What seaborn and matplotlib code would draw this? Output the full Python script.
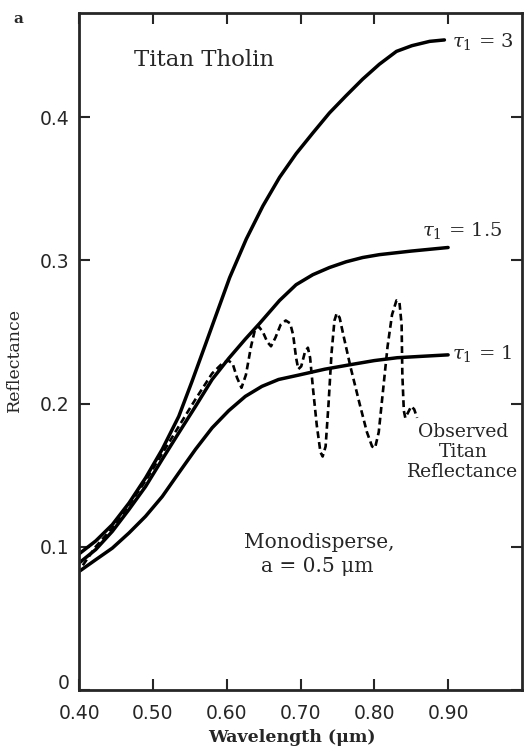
import numpy as np
import pandas as pd
import matplotlib
matplotlib.use("Agg")
import matplotlib.pyplot as plt
import matplotlib.transforms as mtransforms
import seaborn as sns

# model curves, tau1 = 3, 1.5, 1
wl_t3 = [0.40, 0.4225, 0.445, 0.4676, 0.49, 0.5126, 0.535, 0.553, 0.571, 0.5815,
         0.604, 0.6266, 0.649, 0.6716, 0.694, 0.7167, 0.7392, 0.7617, 0.7842,
         0.8068, 0.83, 0.851, 0.875, 0.895]
r_t3 = [0.095, 0.104, 0.1154, 0.1305, 0.148, 0.168, 0.191, 0.2155, 0.241, 0.256,
        0.288, 0.315, 0.338, 0.358, 0.3745, 0.389, 0.403, 0.415, 0.4266,
        0.437, 0.446, 0.450, 0.453, 0.454]

wl_t15 = [0.40, 0.4225, 0.445, 0.4676, 0.49, 0.5126, 0.535, 0.5577, 0.5802, 0.6027,
          0.6252, 0.6446, 0.6716, 0.694, 0.7167, 0.7392, 0.7617, 0.7842, 0.8068,
          0.85, 0.90]
r_t15 = [0.0886, 0.098, 0.1107, 0.126, 0.142, 0.161, 0.1795, 0.198, 0.2168, 0.2315,
         0.245, 0.256, 0.272, 0.283, 0.290, 0.295, 0.299, 0.302, 0.304,
         0.3065, 0.309]

wl_t1 = [0.40, 0.4225, 0.445, 0.4676, 0.49, 0.5126, 0.535, 0.5577, 0.5802, 0.6027,
         0.6252, 0.6477, 0.6703, 0.6986, 0.733, 0.766, 0.80, 0.831, 0.865, 0.90]
r_t1 = [0.0827, 0.0909, 0.099, 0.1096, 0.1212, 0.135, 0.1515, 0.168, 0.183, 0.195,
        0.205, 0.212, 0.2168, 0.220, 0.224, 0.227, 0.230, 0.232, 0.233, 0.234]

# observed Titan reflectance (dashed)
wl_obs = [0.405, 0.4225, 0.445, 0.4676, 0.49, 0.5126, 0.535, 0.5577, 0.5802, 0.594,
          0.602, 0.608, 0.614, 0.620, 0.626, 0.633,
          0.638, 0.643, 0.649, 0.655, 0.660, 0.666, 0.673, 0.680, 0.686, 0.690, 0.694,
          0.697, 0.701, 0.706, 0.710, 0.713, 0.717, 0.722, 0.727, 0.730, 0.734, 0.738,
          0.742, 0.746, 0.749, 0.753, 0.758, 0.768, 0.780, 0.790, 0.797, 0.801, 0.806,
          0.812, 0.818, 0.824, 0.830, 0.834, 0.837, 0.838, 0.840, 0.842, 0.846, 0.850,
          0.854, 0.858]
r_obs = [0.087, 0.100, 0.113, 0.129, 0.146, 0.165, 0.184, 0.203, 0.221, 0.228,
         0.230, 0.228, 0.218, 0.211, 0.220, 0.240,
         0.251, 0.254, 0.250, 0.243, 0.240, 0.246, 0.255, 0.258, 0.256, 0.248, 0.232,
         0.224, 0.226, 0.236, 0.239, 0.232, 0.210, 0.185, 0.166, 0.163, 0.170, 0.200,
         0.235, 0.258, 0.263, 0.260, 0.248, 0.225, 0.200, 0.180, 0.170, 0.169, 0.180,
         0.210, 0.240, 0.262, 0.272, 0.271, 0.255, 0.220, 0.195, 0.190, 0.194, 0.198,
         0.196, 0.190]

xticks = [0.40, 0.50, 0.60, 0.70, 0.80, 0.90]
xticklabels = ["0.40", "0.50", "0.60", "0.70", "0.80", "0.90"]
yticks = [0, 0.1, 0.2, 0.3, 0.4]
yticklabels = ["0", "0.1", "0.2", "0.3", "0.4"]

sns.set_style("ticks")
plt.rcParams["font.family"] = ["DejaVu Serif", "DejaVu Sans"]
plt.rcParams["mathtext.fontset"] = "dejavuserif"

fig = plt.figure(figsize=(5.24, 7.49), dpi=100)
ax = fig.add_axes([0.151, 0.079, 0.845, 0.904])

models = pd.concat([
    pd.DataFrame({"wl": wl_t3, "r": r_t3, "tau": "3"}),
    pd.DataFrame({"wl": wl_t15, "r": r_t15, "tau": "1.5"}),
    pd.DataFrame({"wl": wl_t1, "r": r_t1, "tau": "1"}),
])
for tau, d in models.groupby("tau", sort=False):
    sns.lineplot(data=d, x="wl", y="r", ax=ax, color="black", lw=2.5, sort=False)

obs = pd.DataFrame({"wl": wl_obs, "r": r_obs})
sns.lineplot(data=obs, x="wl", y="r", ax=ax, color="black", lw=1.9, sort=False,
             linestyle=(0, (2.6, 1.5)))

ax.set_xlim(0.40, 1.00)
ax.set_ylim(0, 0.473)
ax.set_xticks(xticks)
ax.set_xticklabels(xticklabels)
ax.set_yticks(yticks)
ax.set_yticklabels(yticklabels)
ax.tick_params(direction="in", length=8, width=1.5, top=True, right=True,
               labelsize=13.5)
ax.tick_params(axis="x", pad=10)
ax.tick_params(axis="y", pad=7)
for lbl in ax.get_xticklabels() + ax.get_yticklabels():
    lbl.set_family("DejaVu Sans")
# the "0" label sits a little above the axis in the original
zero = ax.get_yticklabels()[0]
zero.set_transform(zero.get_transform() +
                   mtransforms.ScaledTranslation(0, 8 / 100, fig.dpi_scale_trans))
for s in ax.spines.values():
    s.set_linewidth(2)
ax.set_xlabel("")
ax.set_ylabel("")

fig.text(0.557, 0.004, "Wavelength (\u03bcm)", fontsize=12.5, fontweight="bold",
         ha="center", va="bottom")
fig.text(0.028, 0.52, "Reflectance", fontsize=12.5, rotation=90, ha="center",
         va="center")

ax.text(0.475, 0.44, "Titan Tholin", fontsize=16.5, va="center")
ax.text(0.905, 0.453, r"$\tau_1$ = 3", fontsize=14, va="center")
ax.text(0.865, 0.321, r"$\tau_1$ = 1.5", fontsize=14, va="center")
ax.text(0.905, 0.235, r"$\tau_1$ = 1", fontsize=14, va="center")
ax.text(0.92, 0.166, "Observed\nTitan\nReflectance", fontsize=13.5, ha="center",
        va="center", linespacing=1.15)
ax.text(0.726, 0.103, "Monodisperse,", fontsize=14.5, ha="center", va="center")
ax.text(0.723, 0.086, "a = 0.5 \u03bcm", fontsize=14.5, ha="center", va="center")
fig.text(0.025, 0.975, "a", fontsize=11, fontweight="bold", va="center")

fig.savefig("out.png", dpi=100)
